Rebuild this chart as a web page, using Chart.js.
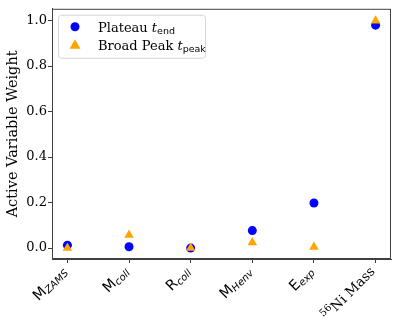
<!DOCTYPE html>
<html>
<head>
<meta charset="utf-8">
<script src="https://cdn.jsdelivr.net/npm/chart.js@4/dist/chart.umd.min.js"></script>
<style>
  html, body { margin: 0; padding: 0; background: #fff; }
  #wrap { width: 398px; height: 331px; }
</style>
</head>
<body>
<div id="wrap"><canvas id="myChart"></canvas></div>
<script>
// data
const categories = ['M ZAMS', 'M coll', 'R coll', 'M Henv', 'E exp', '56Ni Mass']
// tick labels in pieces: [text, kind]
const tickLabels = [
  [['M', 'main'], ['ZAMS', 'sub']],
  [['M', 'main'], ['coll', 'sub']],
  [['R', 'main'], ['coll', 'sub']],
  [['M', 'main'], ['Henv', 'sub']],
  [['E', 'main'], ['exp', 'sub']],
  [['56', 'sup'], ['Ni Mass', 'serif']]
]
const plateau = [0.013, 0.006, 0.0, 0.077, 0.198, 0.98]
const broadPeak = [0.0, 0.058, 0.0, 0.025, 0.005, 1.0]
const seriesNames = [['Plateau ', 't', 'end'], ['Broad Peak ', 't', 'peak']]
const yTicks = [0, 0.2, 0.4, 0.6, 0.8, 1.0]

const AXIS = '#404040'
const SERIF = '"DejaVu Serif", serif'
const SANS = '"DejaVu Sans", sans-serif'

const toPoints = vals => vals.map((v, i) => ({ x: i, y: v }))

const frameAndLabels = {
  id: 'frameAndLabels',
  afterDraw (chart) {
    const { ctx, chartArea: a } = chart
    const xs = chart.scales.x
    ctx.save()
    // box round the plot
    ctx.strokeStyle = AXIS
    ctx.lineWidth = 1
    ctx.strokeRect(a.left + 0.5, a.top + 0.5, a.right - a.left - 1, a.bottom - a.top - 1)

    // rotated x labels with sub/superscripts
    ctx.fillStyle = '#000'
    tickLabels.forEach((parts, i) => {
      const x = xs.getPixelForValue(i)
      const fonts = parts.map(([t, k]) => {
        if (k === 'main') return '14.5px ' + SANS
        if (k === 'sub') return 'italic 10px ' + SANS
        if (k === 'sup') return '10px ' + SERIF
        return '13.5px ' + SERIF
      })
      let total = 0
      const widths = parts.map(([t], j) => {
        ctx.font = fonts[j]
        const w = ctx.measureText(t).width
        total += w
        return w
      })
      ctx.save()
      ctx.translate(x - 3, a.bottom + 10)
      ctx.rotate(-Math.PI / 4)
      ctx.textBaseline = 'alphabetic'
      let cx = -total
      parts.forEach(([t, k], j) => {
        ctx.font = fonts[j]
        let dy = 4.5
        if (k === 'sub') dy = 6.5
        if (k === 'sup') dy = -1
        ctx.fillText(t, cx, dy)
        cx += widths[j]
      })
      ctx.restore()
    })

    // legend
    const lx = a.left + 6, ly = a.top + 6, lw = 147, lh = 43
    ctx.beginPath()
    ctx.roundRect(lx + 0.5, ly + 0.5, lw, lh, 3)
    ctx.fillStyle = 'rgba(255,255,255,0.8)'
    ctx.fill()
    ctx.strokeStyle = '#d6d6d6'
    ctx.stroke()
    chart.data.datasets.forEach((ds, i) => {
      const my = ly + 12 + i * 18
      const mx = lx + 17
      ctx.fillStyle = ds.backgroundColor
      ctx.beginPath()
      if (ds.pointStyle === 'triangle') {
        ctx.moveTo(mx, my - 5.5)
        ctx.lineTo(mx + 5.5, my + 4)
        ctx.lineTo(mx - 5.5, my + 4)
        ctx.closePath()
      } else {
        ctx.arc(mx, my, 4.5, 0, Math.PI * 2)
      }
      ctx.fill()
      const [plain, it, sub] = seriesNames[i]
      ctx.fillStyle = '#000'
      ctx.textBaseline = 'alphabetic'
      let tx = lx + 40
      const base = my + 5
      ctx.font = '13px ' + SERIF
      ctx.fillText(plain, tx, base)
      tx += ctx.measureText(plain).width
      ctx.font = 'italic 13px ' + SERIF
      ctx.fillText(it, tx, base)
      tx += ctx.measureText(it).width
      ctx.font = '9.5px ' + SANS
      ctx.fillText(sub, tx, base + 2)
    })
    ctx.restore()
  }
}

new Chart(document.getElementById('myChart'), {
  type: 'scatter',
  data: {
    labels: categories,
    datasets: [{
      label: 'Plateau t_end',
      data: toPoints(plateau),
      order: 1,
      pointStyle: 'circle',
      pointRadius: 4.5,
      backgroundColor: '#0000ff',
      borderColor: '#0000ff',
      borderWidth: 0
    }, {
      label: 'Broad Peak t_peak',
      data: toPoints(broadPeak),
      order: 0,
      pointStyle: 'triangle',
      pointRadius: 5.5,
      backgroundColor: '#ffa500',
      borderColor: '#ffa500',
      borderWidth: 0
    }]
  },
  options: {
    responsive: true,
    maintainAspectRatio: false,
    animation: false,
    layout: { padding: { top: 6, right: 7, left: 0, bottom: 0 } },
    plugins: {
      legend: { display: false },
      tooltip: { enabled: false }
    },
    scales: {
      x: {
        type: 'linear',
        min: -0.25,
        max: 5.25,
        afterBuildTicks (s) { s.ticks = categories.map((c, i) => ({ value: i })) },
        grid: { drawOnChartArea: false, drawTicks: true, tickLength: 4, color: AXIS },
        border: { color: AXIS },
        ticks: { display: false },
        afterFit (s) { s.height = 72 }
      },
      y: {
        min: -0.048,
        max: 1.052,
        afterBuildTicks (s) { s.ticks = yTicks.map(v => ({ value: v })) },
        grid: { drawOnChartArea: false, drawTicks: true, tickLength: 4, color: AXIS },
        border: { color: AXIS },
        ticks: {
          padding: 1,
          color: '#000',
          font: { family: SERIF, size: 13 },
          callback: v => v.toFixed(1)
        },
        title: {
          display: true,
          text: 'Active Variable Weight',
          color: '#000',
          font: { family: SERIF, size: 14.5 },
          padding: { top: 5, bottom: 0 }
        },
        afterFit (s) { s.width = 52 }
      }
    }
  },
  plugins: [frameAndLabels]
})
</script>
</body>
</html>
